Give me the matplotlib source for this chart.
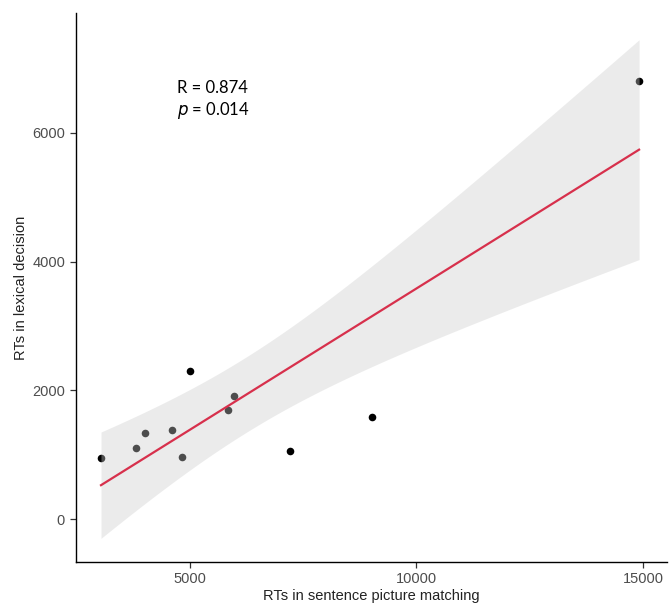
import numpy as np
import matplotlib
matplotlib.use("Agg")
import matplotlib.pyplot as plt

# RTs per item: sentence-picture matching (x) vs lexical decision (y)
spm_rt = [3040, 3811, 4009, 4604, 4824, 5000, 5837, 5970, 7203, 9010, 14914]
ld_rt = [945, 1100, 1333, 1380, 961, 2294, 1690, 1907, 1054, 1581, 6805]
x_ticks = [5000, 10000, 15000]
y_ticks = [0, 2000, 4000, 6000]

x = np.array(spm_rt, float)
y = np.array(ld_rt, float)
n = len(x)

# least-squares fit with 95% confidence band
slope, intercept = np.polyfit(x, y, 1)
xs = np.linspace(x.min(), x.max(), 200)
ys = intercept + slope * xs
resid = y - (intercept + slope * x)
s = np.sqrt(np.sum(resid ** 2) / (n - 2))
sxx = np.sum((x - x.mean()) ** 2)
t_crit = 2.262157  # t(0.975, df=9)
se = s * np.sqrt(1.0 / n + (xs - x.mean()) ** 2 / sxx)

fig = plt.figure(figsize=(6.69, 6.08), dpi=100)
ax = fig.add_axes([0.1129, 0.0757, 0.8841, 0.9029])

ax.scatter(x, y, s=30, color="black", zorder=2, linewidths=0)
ax.fill_between(xs, ys - t_crit * se, ys + t_crit * se,
                color=(0.80, 0.80, 0.80), alpha=0.38, linewidth=0, zorder=3)
ax.plot(xs, ys, color="#D7304C", linewidth=1.6, zorder=4)

ax.set_xlim(2478, 15530)
ax.set_ylim(-667, 7860)
ax.set_xticks(x_ticks)
ax.set_yticks(y_ticks)

for side in ("top", "right"):
    ax.spines[side].set_visible(False)
for side in ("left", "bottom"):
    ax.spines[side].set_color("black")
    ax.spines[side].set_linewidth(1.0)

ax.tick_params(axis="both", colors="#333333", length=4, width=0.9,
               labelsize=10.5, labelcolor="#4D4D4D")
for lab in ax.get_xticklabels() + ax.get_yticklabels():
    lab.set_family("Liberation Sans")

ax.set_xlabel("RTs in sentence picture matching", fontsize=10.5,
              family="Liberation Sans", color="#222222", labelpad=2)
ax.set_ylabel("RTs in lexical decision", fontsize=10.5,
              family="Liberation Sans", color="#222222", labelpad=3)

ax.text(4720, 6690, "R = 0.874", fontsize=12, family="Lato",
        color="black", va="center", ha="left")
ax.text(4720, 6340, r"$\it{p}$ = 0.014", fontsize=12, family="Lato",
        color="black", va="center", ha="left")

fig.savefig("out.png", dpi=100)
